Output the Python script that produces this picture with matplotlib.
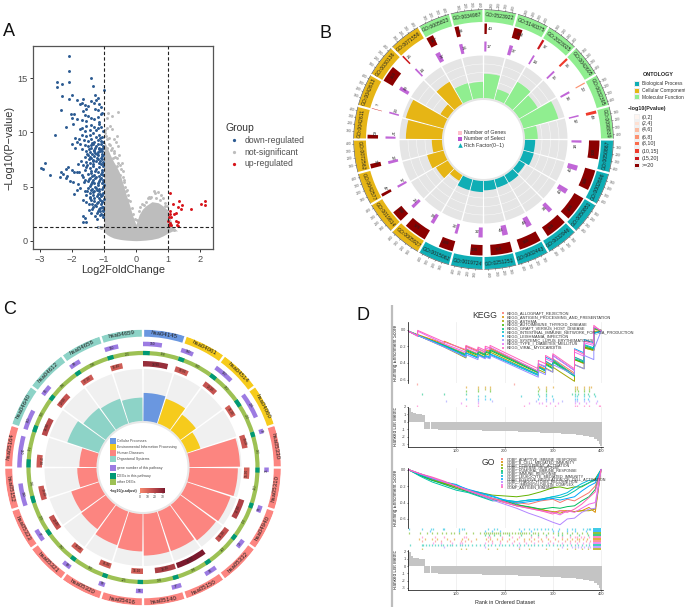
import numpy as np
import matplotlib
matplotlib.use("Agg")
import matplotlib.pyplot as plt
from matplotlib.colors import LinearSegmentedColormap

plt.rcParams["font.family"] = ["Liberation Sans", "DejaVu Sans"]

W, H = 685, 608

# ---- panel A data
down_x = [-2.08, -2.08, -2.46, -2.08, -2.31, -2.48, -1.40, -1.35, -2.32, -2.01, -2.09, -1.83, -1.65, -1.70, -1.00, -1.28, -2.34, -2.04,
          -1.75, -1.60, -1.55, -1.50, -1.65, -1.42, -1.30, -1.25, -1.20, -1.15, -1.28, -1.20, -1.10,
          -1.95, -2.00, -1.85, -1.70, -1.60, -1.50, -1.40, -1.30, -1.20, -1.10, -1.05, -1.15, -1.55,
          -2.20, -1.98, -1.75, -1.70, -1.55, -1.45, -1.40, -1.30, -1.25, -1.20, -1.15, -1.08, -1.02, -1.60,
          -2.52, -1.90, -1.85, -1.78, -1.70, -1.62, -1.55, -1.50, -1.45, -1.40, -1.35, -1.30, -1.25, -1.20, -1.15, -1.10, -1.05, -1.02, -1.12, -1.38,
          -2.00, -1.90, -1.75, -1.68, -1.60, -1.55, -1.50, -1.45, -1.40, -1.35, -1.30, -1.25, -1.20, -1.15, -1.10, -1.05, -1.02, -1.08, -1.18, -1.28, -1.42,
          -1.80, -1.72, -1.65, -1.60, -1.55, -1.50, -1.45, -1.40, -1.35, -1.30, -1.25, -1.20, -1.15, -1.10, -1.05, -1.02, -1.08, -1.18, -1.33, -1.48, -1.03,
          -2.97, -2.90, -2.83, -2.13, -2.18, -2.00, -1.95, -1.85, -1.78, -1.70, -1.60, -1.55, -1.50, -1.45, -1.40, -1.35, -1.30, -1.25, -1.20, -1.15, -1.10, -1.05, -1.02, -2.35, -2.27,
          -2.68, -2.38, -2.20, -2.15, -2.05, -1.98, -1.80, -1.65, -1.62, -1.58, -1.50, -1.45, -1.40, -1.35, -1.30, -1.25, -1.20, -1.15, -1.10, -1.05, -1.02, -1.45,
          -1.95, -1.85, -1.75, -1.60, -1.55, -1.50, -1.45, -1.40, -1.35, -1.30, -1.25, -1.20, -1.15, -1.10, -1.05, -1.02, -1.22,
          -1.65, -1.55, -1.45, -1.38, -1.33, -1.30, -1.25, -1.20, -1.15, -1.10, -1.05, -1.02, -1.12,
          -1.65, -1.60, -1.55, -1.65, -1.47, -1.27, -1.22, -1.13, -1.08, -1.03, -1.18, -1.02, -1.18, -1.14,
          -1.52, -1.47, -1.37, -1.32, -1.27, -1.22, -1.17, -1.12, -1.07, -1.03, -1.43, -1.33, -1.23, -1.13, -1.06, -1.04,
          -1.52, -1.42, -1.37, -1.27, -1.17, -1.07, -1.03, -1.48, -1.38, -1.28, -1.18, -1.12, -1.04, -1.01,
          -1.53, -1.43, -1.33, -1.23, -1.13, -1.07, -1.37, -1.27, -1.17, -1.03, -1.42, -1.32, -1.22, -1.12, -1.06, -1.01,
          -1.47, -1.37, -1.27, -1.17, -1.07, -1.03, -1.42, -1.22, -1.12, -1.02]
down_y = [17.1, 15.7, 14.7, 14.7, 14.5, 14.15, 15.0, 14.3, 13.4, 13.5, 13.05, 13.0, 13.1, 12.7, 13.9, 13.45, 12.05, 11.7,
          12.6, 12.5, 12.2, 12.4, 12.0, 12.9, 12.7, 13.0, 13.2, 12.6, 12.2, 12.05, 12.3,
          11.7, 11.3, 11.2, 11.1, 11.6, 11.5, 11.3, 11.2, 11.4, 11.7, 11.8, 11.0, 11.05,
          10.5, 10.8, 10.3, 10.4, 10.6, 10.2, 10.7, 10.5, 10.2, 10.4, 10.8, 10.5, 10.1, 10.1,
          9.8, 9.5, 9.1, 9.4, 9.8, 9.3, 9.7, 9.2, 9.8, 9.4, 9.9, 9.1, 9.6, 9.3, 9.8, 9.2, 9.6, 9.1, 9.5, 9.05,
          8.9, 8.6, 8.9, 8.5, 8.8, 8.3, 8.7, 8.2, 8.6, 8.9, 8.4, 8.7, 8.2, 8.6, 8.9, 8.3, 8.7, 8.5, 8.9, 8.1, 8.85,
          7.1, 7.4, 7.0, 7.7, 7.3, 7.9, 7.2, 7.6, 7.1, 7.8, 7.4, 7.9, 7.2, 7.6, 7.8, 7.3, 7.1, 7.5, 7.45, 7.55, 7.95,
          6.7, 6.6, 7.2, 6.8, 6.6, 6.55, 6.3, 6.35, 6.3, 6.1, 6.5, 6.8, 6.2, 6.7, 6.4, 6.9, 6.1, 6.6, 6.3, 6.8, 6.2, 6.5, 6.9, 6.3, 6.2,
          6.05, 5.9, 5.8, 6.0, 5.5, 5.4, 5.2, 5.9, 5.4, 5.6, 5.5, 5.8, 5.2, 5.6, 5.3, 5.9, 5.1, 5.5, 5.8, 5.3, 5.6, 5.05,
          4.35, 4.7, 4.9, 4.6, 4.2, 4.9, 4.4, 4.7, 4.2, 4.6, 4.9, 4.3, 4.6, 4.1, 4.8, 4.4, 4.65,
          3.8, 3.6, 3.9, 3.4, 3.1, 3.7, 3.2, 3.6, 3.9, 3.4, 3.7, 3.15, 3.05,
          2.3, 2.1, 1.75, 1.75, 2.8, 2.3, 2.0, 2.75, 2.5, 2.2, 2.75, 2.4, 1.3, 1.3,
          8.05, 8.45, 8.05, 8.25, 8.55, 8.05, 8.45, 8.25, 8.05, 8.55, 7.7, 7.35, 7.65, 7.35, 7.5, 7.05,
          6.95, 6.25, 5.95, 6.45, 6.0, 6.35, 6.05, 5.7, 5.4, 5.75, 5.35, 5.65, 5.45, 5.15,
          4.55, 4.05, 4.45, 4.1, 4.35, 4.2, 4.8, 5.0, 4.75, 4.95, 3.75, 3.9, 3.45, 3.75, 3.55, 3.85,
          3.35, 2.9, 3.3, 2.95, 3.1, 2.85, 2.55, 2.6, 2.35, 2.75]
up_x = [1.08, 2.15, 2.05, 2.15, 1.72, 1.35, 1.17, 1.43, 1.33, 1.40, 1.06, 1.24, 1.19, 1.08, 1.04, 1.11, 1.01, 1.24, 1.30, 1.06, 1.11, 1.27, 1.03, 1.30]
up_y = [4.43, 3.70, 3.40, 3.26, 2.95, 3.70, 3.40, 3.30, 3.07, 2.90, 2.70, 2.60, 2.43, 2.50, 2.20, 2.15, 1.80, 1.85, 1.70, 1.60, 1.45, 1.45, 1.45, 1.35]
# stray grey points above the dense cloud
ns_x = [-0.55, -0.86, -0.76, -0.92, -0.80, -0.92, -0.75, -0.60, -0.70, -0.95, -0.62, -0.85, -0.55, -0.78, -0.90, -0.68, -0.52, -0.72, -0.45, -0.60, -0.42, -0.50, -0.36, -0.30, -0.25, 0.55, 0.60, 0.70, 0.78, 0.85, 0.25, 0.38, 0.48, 0.92, 1.10, 1.20,
        -0.98, -0.96, -0.90, -0.85, -0.82, -0.75, -0.70, -0.66, -0.60, -0.55, -0.50, -0.46, -0.42, -0.38, -0.33, -0.28, -0.24, -0.18, -0.13, -0.08, -0.03, 0.03, 0.08, 0.14, 0.20, 0.30, 0.40, 0.45, 0.62, 0.75, 0.90, 0.96, 1.02, 1.05, -1.05, -1.10, -1.15]
ns_y = [11.9, 11.75, 11.5, 11.3, 10.6, 10.4, 10.3, 9.7, 9.4, 9.7, 9.1, 8.9, 8.7, 8.4, 8.6, 8.1, 7.9, 7.6, 7.2, 6.9, 6.4, 6.1, 5.4, 4.6, 3.8, 4.6, 4.4, 4.5, 4.2, 3.9, 3.3, 3.9, 4.0, 3.2, 1.2, 1.0,
        10.2, 9.9, 9.4, 9.5, 8.8, 8.6, 8.3, 7.7, 7.6, 7.2, 7.0, 6.6, 5.9, 5.6, 5.0, 4.7, 4.2, 3.7, 3.0, 2.5, 2.0, 1.9, 2.7, 3.1, 3.4, 3.6, 4.0, 3.9, 3.9, 3.8, 3.5, 3.2, 1.2, 0.95, 1.25, 1.2, 1.28]
cloud_x = [-1.00, -0.90, -0.80, -0.70, -0.60, -0.50, -0.40, -0.30, -0.20, -0.10, 0.00, 0.10, 0.20, 0.30, 0.50, 0.70, 0.85, 1.00, 1.15, 1.30]
cloud_hi = [9.3, 8.6, 7.9, 7.3, 6.8, 6.2, 5.2, 4.2, 3.3, 2.3, 1.5, 2.4, 2.9, 3.2, 3.6, 3.5, 3.2, 2.8, 1.3, 0.9]
cloud_lo = [0.80, 0.55, 0.38, 0.25, 0.18, 0.12, 0.08, 0.05, 0.03, 0.01, 0.00, 0.01, 0.03, 0.05, 0.12, 0.25, 0.45, 0.70, 0.90, 0.90]

# ---- panel B data
go_terms = ["GO:0523922", "GO:5140375", "GO:2023025", "GO:0042605", "GO:0032395", "GO:0098839",
            "GO:0050867", "GO:0002696", "GO:0050851", "GO:0032946", "GO:0002443", "GO:0251251", "GO:0019724", "GO:0015062",
            "GO:0005927", "GO:0019814", "GO:0042577", "GO:0072562", "GO:0042611", "GO:0042613", "GO:0030136", "GO:0071556",
            "GO:0005823", "GO:0034987"]
go_group = [2, 2, 2, 2, 2, 2, 0, 0, 0, 0, 0, 0, 0, 0, 1, 1, 1, 1, 1, 1, 1, 1, 2, 2]
go_genes = [40, 134, 37, 36, 20, 49, 300, 330, 400, 350, 360, 350, 200, 230, 370, 180, 47, 74, 60, 7, 263, 26, 117, 68]
go_select = [17, 27, 14, 15, 16, 12, 18, 40, 40, 34, 43, 43, 32, 22, 28, 25, 17, 22, 17, 13, 29, 14, 37, 26]
go_rich = [0.57, 0.25, 0.60, 0.50, 0.85, 0.30, 0.24, 0.25, 0.16, 0.20, 0.20, 0.22, 0.26, 0.26, 0.15, 0.32, 0.40, 0.24, 0.85, 0.92, 0.20, 0.60, 0.40, 0.38]
go_bin = [7, 7, 6, 5, 3, 5, 7, 7, 7, 7, 7, 7, 7, 7, 7, 7, 7, 7, 7, 6, 7, 6, 7, 7]
go_ticks = [100, 200, 300, 400]
bin_labels = ["(0,2]", "(2,4]", "(4,6]", "(6,8]", "(8,10]", "(10,15]", "(15,20]", ">=20"]
ontology_labels = ["Biological Process", "Cellular Component", "Molecular Function"]

# ---- panel C data
hsa_terms = ["hsa04145", "hsa04061", "hsa04514", "hsa04060", "hsa05330", "hsa05310", "hsa04940", "hsa05332", "hsa05150", "hsa05140",
             "hsa05416", "hsa05320", "hsa05321", "hsa05323", "hsa05152", "hsa05164", "hsa04640", "hsa04612", "hsa04658", "hsa04659"]
hsa_group = [0, 1, 1, 1, 2, 2, 2, 2, 2, 2, 2, 2, 2, 2, 2, 2, 3, 3, 3, 3]
hsa_rich = [0.54, 0.50, 0.37, 0.27, 0.97, 0.93, 0.88, 0.85, 0.80, 0.80, 0.72, 0.68, 0.58, 0.56, 0.37, 0.33, 0.64, 0.53, 0.50, 0.45]
hsa_padj = [33.9, 18.5, 20.1, 16.2, 18.0, 15.3, 27.1, 21.2, 42.2, 28.3, 16.1, 16.3, 16.0, 20.4, 19.2, 17.3, 24.3, 20.0, 17.2, 16.4]
hsa_genes = [150, 100, 160, 206, 36, 36, 55, 70, 98, 77, 56, 50, 69, 97, 180, 250, 160, 85, 90, 110]
hsa_other = [164, 140, 160, 200, 300, 250, 202, 323, 196, 194, 225, 302, 100, 123, 196, 111, 103, 106, 138, 200]
class_labels = ["Cellular Processes", "Environmental Information Processing", "Human Diseases", "Organismal Systems"]

# ---- panel D data
kegg_names = ["KEGG_ALLOGRAFT_REJECTION", "KEGG_ANTIGEN_PROCESSING_AND_PRESENTATION", "KEGG_ASTHMA", "KEGG_AUTOIMMUNE_THYROID_DISEASE",
              "KEGG_GRAFT_VERSUS_HOST_DISEASE", "KEGG_INTESTINAL_IMMUNE_NETWORK_FOR_IGA_PRODUCTION", "KEGG_LEISHMANIA_INFECTION",
              "KEGG_SYSTEMIC_LUPUS_ERYTHEMATOSUS", "KEGG_TYPE_I_DIABETES_MELLITUS", "KEGG_VIRAL_MYOCARDITIS"]
kegg_colors = ["#F8766D", "#D89000", "#A3A500", "#39B600", "#00BF7D", "#00BFC4", "#00B0F6", "#9590FF", "#E76BF3", "#FF62BC"]
kegg_rank = [1, 20, 20, 75, 75, 120, 120, 145, 145, 160, 160, 170, 170, 270, 270, 285, 285, 300, 300, 345, 345, 365, 365, 385, 385, 400]
kegg_es = [
    [-.02, -.07, -.07, -.18, -.18, -.29, -.23, -.29, -.25, -.29, -.25, -.27, -.23, -.51, -.43, -.47, -.38, -.43, -.35, -.52, -.33, -.38, -.20, -.24, .02, -.01],
    [-.02, -.06, -.06, -.17, -.14, -.25, -.20, -.26, -.23, -.27, -.24, -.26, -.22, -.50, -.44, -.48, -.40, -.44, -.37, -.54, -.36, -.41, -.22, -.25, .00, -.01],
    [-.02, -.07, -.07, -.21, -.21, -.34, -.26, -.33, -.29, -.33, -.29, -.31, -.27, -.54, -.48, -.52, -.46, -.51, -.45, -.62, -.42, -.47, -.22, -.25, -.03, -.01],
    [-.02, -.07, -.07, -.19, -.19, -.31, -.25, -.31, -.27, -.31, -.27, -.29, -.25, -.52, -.45, -.49, -.41, -.46, -.38, -.55, -.36, -.40, -.21, -.24, .01, -.01],
    [-.02, -.07, -.07, -.19, -.19, -.30, -.24, -.30, -.26, -.30, -.26, -.28, -.24, -.51, -.45, -.50, -.42, -.47, -.39, -.56, -.35, -.39, -.19, -.23, .02, -.01],
    [-.02, -.07, -.07, -.20, -.20, -.33, -.28, -.34, -.30, -.34, -.32, -.34, -.30, -.55, -.45, -.49, -.38, -.43, -.36, -.55, -.33, -.38, -.18, -.22, -.04, -.02],
    [-.02, -.07, -.07, -.20, -.20, -.32, -.28, -.34, -.30, -.34, -.31, -.33, -.29, -.54, -.41, -.45, -.33, -.37, -.31, -.49, -.23, -.28, -.12, -.16, -.05, -.02],
    [-.02, -.07, -.07, -.21, -.21, -.33, -.30, -.36, -.31, -.35, -.33, -.35, -.31, -.57, -.50, -.54, -.47, -.51, -.42, -.54, -.42, -.47, -.31, -.36, -.24, -.02],
    [-.02, -.08, -.02, -.17, -.17, -.27, -.21, -.27, -.23, -.27, -.22, -.24, -.21, -.50, -.41, -.44, -.35, -.39, -.31, -.49, -.27, -.32, -.16, -.19, .03, -.01],
    [-.02, -.08, -.01, -.15, -.15, -.24, -.19, -.25, -.21, -.25, -.20, -.22, -.19, -.47, -.37, -.41, -.31, -.36, -.29, -.47, -.24, -.30, -.14, -.17, .05, -.02],
]
kegg_hits = [
    [18, 220],
    [120, 145, 160, 170, 270, 285, 300, 345, 350, 365, 375, 380],
    [145, 160, 170, 272, 285, 345, 350, 365, 375],
    [120, 145, 170, 270, 285, 345, 352, 365, 375],
    [30, 75, 120, 270, 285, 340, 345, 352, 365, 372, 385],
    [145, 160, 235, 272, 285, 298, 345, 350, 365, 375, 388],
    [120, 145, 160, 170, 270, 285, 300, 345, 350, 365, 372],
    [78, 145, 175, 265, 285, 300, 320, 345, 350, 365, 375, 392],
    [110, 145, 250, 272, 278, 295, 310, 345, 355, 368, 390],
    [18, 120, 145, 240, 285, 305, 345, 350, 365, 375, 395, 398],
]
go_names = ["GOBP_ADAPTIVE_IMMUNE_RESPONSE", "GOBP_B_CELL_MEDIATED_IMMUNITY", "GOBP_COMPLEMENT_ACTIVATION", "GOBP_DEFENSE_RESPONSE",
            "GOBP_HUMORAL_IMMUNE_RESPONSE", "GOBP_IMMUNE_RESPONSE", "GOBP_LEUKOCYTE_MEDIATED_IMMUNITY", "GOBP_POSITIVE_REGULATION_OF_CELL_ACTIVATION",
            "GOBP_PHAGOCYTOSIS_RECOGNITION", "GOCC_IMMUNOGLOBULIN_COMPLEX", "GOMF_ANTIGEN_BINDING"]
go_colors = ["#F8766D", "#DB8E00", "#AEA200", "#64B200", "#00BD5C", "#00C1A7", "#00BADE", "#00A6FF", "#B385FF", "#EF67EB", "#FF63B6"]
go_rank = [1, 25, 50, 75, 100, 125, 150, 175, 200, 225, 250, 275, 300, 315, 330, 345, 360, 375, 388, 400]
go_es = [
    [0, -.06, -.12, -.17, -.22, -.26, -.31, -.35, -.39, -.40, -.42, -.38, -.36, -.40, -.36, -.38, -.33, -.28, -.20, 0],
    [0, -.06, -.12, -.17, -.21, -.27, -.31, -.36, -.40, -.44, -.46, -.48, -.52, -.50, -.50, -.51, -.50, -.46, -.52, 0],
    [0, -.05, -.11, -.16, -.20, -.26, -.30, -.35, -.38, -.42, -.46, -.49, -.51, -.53, -.50, -.51, -.50, -.50, -.48, 0],
    [0, -.07, -.13, -.17, -.21, -.25, -.28, -.31, -.32, -.33, -.31, -.27, -.22, -.21, -.23, -.21, -.21, -.16, -.11, 0],
    [0, -.07, -.13, -.18, -.23, -.27, -.32, -.37, -.38, -.43, -.45, -.48, -.46, -.47, -.45, -.44, -.38, -.33, -.24, 0],
    [0, -.08, -.15, -.20, -.25, -.28, -.33, -.38, -.37, -.39, -.37, -.36, -.33, -.34, -.31, -.26, -.20, -.16, -.13, 0],
    [0, -.05, -.10, -.15, -.18, -.25, -.29, -.33, -.37, -.39, -.37, -.36, -.33, -.31, -.28, -.22, -.17, -.13, -.13, 0],
    [0, -.06, -.11, -.15, -.19, -.24, -.28, -.32, -.37, -.41, -.39, -.37, -.35, -.37, -.35, -.33, -.26, -.20, -.16, 0],
    [0, -.05, -.10, -.15, -.20, -.25, -.31, -.37, -.42, -.47, -.53, -.58, -.64, -.67, -.60, -.59, -.52, -.48, -.47, 0],
    [0, -.05, -.10, -.15, -.20, -.26, -.31, -.35, -.40, -.44, -.47, -.50, -.52, -.55, -.50, -.52, -.47, -.42, -.40, 0],
    [0, -.05, -.09, -.14, -.20, -.25, -.30, -.35, -.39, -.44, -.47, -.50, -.54, -.50, -.52, -.48, -.42, -.34, -.27, 0],
]
# rug rows run top to bottom in the order seen in the picture
go_rug_colors = ["#00BADE", "#00A6FF", "#64B200", "#00BD5C", "#FF63B6", "#DB8E00", "#F8766D", "#EF67EB", "#00C1A7", "#B385FF", "#AEA200"]
go_hits = [
    [3, 30, 48, 52, 72, 75, 105, 112, 115, 165, 178, 185, 230, 240, 250, 262, 268, 275, 283, 290, 298, 312, 330, 340, 345, 362, 370, 374, 378],
    [45, 105, 160, 175, 190, 235, 255, 300, 310, 330, 345, 368],
    [3, 25, 40, 50, 60, 70, 78, 90, 95, 105, 120, 135, 150, 158, 162, 166, 170, 174, 178, 182, 186, 190, 196, 200, 205, 210, 216, 222, 228, 232, 236, 240, 245, 250, 258, 264, 270, 280, 290, 300, 310, 320, 330, 340, 350, 360, 370],
    [160, 168, 178, 190, 210, 235, 255, 270, 285, 310, 320, 335, 355, 372],
    [30, 55, 75, 115, 120, 165, 170, 195, 215, 230, 255, 270, 285, 300, 320, 335, 345, 350, 358, 365, 375],
    [22, 35, 50, 60, 80, 95, 112, 125, 140, 162, 170, 185, 195, 210, 225, 240, 250, 262, 275, 290, 305, 320, 330, 340, 350, 355, 362, 370],
    [28, 55, 68, 88, 110, 118, 130, 165, 175, 190, 205, 220, 240, 255, 270, 278, 295, 310, 325, 335, 345, 355, 368, 378],
    [52, 68, 92, 108, 112, 160, 175, 190, 215, 230, 245, 262, 290, 300, 320, 335, 350, 362, 374],
    [4, 28, 32, 38, 44, 50, 55, 62, 68, 72, 80, 88, 92, 100, 108, 112, 118, 125, 132, 140, 150, 158, 165, 172, 180, 188, 195, 202, 210, 218, 225, 232, 240, 248, 255, 262, 270, 278, 285, 292, 300, 308, 315, 322, 330, 338, 345, 352, 360, 368, 376],
    [75, 160, 230, 320, 340, 345, 352, 358, 365, 372, 378],
    [30, 110, 120, 165, 185, 230, 250, 285, 310, 330, 345, 360, 372],
]
go_block = [(384, 16)]
metric_rank = [3, 8, 14, 20, 26, 31, 40, 55, 70, 85, 100, 115, 130, 145, 160, 175, 190, 205, 220, 235, 250, 265, 280, 295, 310, 325, 340, 355, 368, 380, 388, 393, 397, 400]
metric_val = [1.9, 1.35, 1.15, 1.05, 1.0, .95, -1.0, -1.02, -1.04, -1.06, -1.08, -1.1, -1.13, -1.15, -1.18, -1.2, -1.23, -1.27, -1.3, -1.33, -1.37, -1.4, -1.45, -1.5, -1.56, -1.62, -1.7, -1.8, -1.92, -2.08, -2.3, -2.6, -3.0, -3.3]

blue_c, grey_c, red_c = "#2C5B92", "#BDBDBD", "#D7141A"
b_colors = ["#0FAEB5", "#E6B515", "#90EE90"]
bin_colors = ["#FFF5F0", "#FEE0D2", "#FCBBA1", "#FC9272", "#FB6A4A", "#EF3B2C", "#CB181D", "#8B0000"]
c_colors = ["#6A97E0", "#F6CB1C", "#FC8580", "#8DD3C7"]
padj_cmap = LinearSegmentedColormap.from_list("padj", ["#F7886E", "#C2504F", "#7B1A2E"])

fig = plt.figure(figsize=(W / 100, H / 100), dpi=100)


def axes_px(left, top, right, bottom, **kw):
    return fig.add_axes([left / W, 1 - bottom / H, (right - left) / W, (bottom - top) / H], **kw)


def polar_px(cx, cy, r):
    ax = axes_px(cx - r, cy - r, cx + r, cy + r, projection="polar")
    ax.set_theta_zero_location("N")
    ax.set_theta_direction(-1)
    ax.set_ylim(0, r)
    ax.axis("off")
    ax.patch.set_alpha(0)
    return ax


def tangent_rot(deg):
    deg = deg % 360
    return -deg if deg < 90 or deg > 270 else 180 - deg


# ---- A: volcano
ax = axes_px(33, 46, 213, 249)
ax.fill_between(cloud_x, cloud_lo, cloud_hi, color=grey_c, lw=0, zorder=1)
ax.scatter(down_x, down_y, s=4.5, color=blue_c, lw=0, label="down-regulated", zorder=2)
ax.scatter(ns_x, ns_y, s=4.5, color=grey_c, lw=0, label="not-significant", zorder=2)
ax.scatter(up_x, up_y, s=4.5, color=red_c, lw=0, label="up-regulated", zorder=2)
for v in (-1, 1):
    ax.axvline(v, color="#222222", ls=(0, (3, 2)), lw=0.8, zorder=3)
ax.axhline(1.3, color="#222222", ls=(0, (3, 2)), lw=0.8, zorder=3)
ax.set_xlim(-3.22, 2.41)
ax.set_ylim(-0.77, 17.98)
ax.set_xticks([-3, -2, -1, 0, 1, 2])
ax.set_xticklabels(["\u22123", "\u22122", "\u22121", "0", "1", "2"])
ax.set_yticks([0, 5, 10, 15])
ax.tick_params(labelsize=6.6, labelcolor="#4D4D4D", color="#333333", length=2.5, width=0.7, pad=1.5)
for s in ax.spines.values():
    s.set_color("#555555")
    s.set_linewidth(0.9)
ax.set_xlabel("Log2FoldChange", fontsize=7.8, color="#333333", labelpad=1)
ax.set_ylabel("\u2212Log10(P\u2212value)", fontsize=7.8, color="#333333", labelpad=2)
leg = ax.legend(title="Group", loc="upper left", bbox_to_anchor=(225 / W, 1 - 123 / H), bbox_transform=fig.transFigure,
                frameon=False, fontsize=6.2, title_fontsize=7.5, markerscale=1.1, labelspacing=0.32, handletextpad=0.3,
                borderpad=0, borderaxespad=0)
leg._legend_box.align = "left"
for t in leg.get_texts():
    t.set_color("#4D4D4D")
leg.get_title().set_color("#333333")

# ---- B: GO circle
cx, cy, R = 483.5, 139.5, 139
ax = polar_px(cx, cy, R)
n = len(go_terms)
step = 2 * np.pi / n
gap = np.radians(1.0)
starts = np.arange(n) * step
ax.bar(starts + gap / 2, 12, step - gap, bottom=117.5, align="edge", color=[b_colors[g] for g in go_group], lw=0)
ax.bar(starts + gap / 2, 42.5, step - gap, bottom=41.5, align="edge", color="#E5E5E5", lw=0)
ax.bar(0, 2, 2 * np.pi, bottom=39.5, align="edge", color="#E5E5E5", lw=0)
for lev in (0.2, 0.4, 0.6, 0.8):
    for s0 in starts:
        th = np.linspace(s0 + gap / 2, s0 + step - gap / 2, 12)
        ax.plot(th, np.full(12, 41.5 + lev * 42.5), color="white", lw=0.3)
ax.bar(starts + gap / 2, np.array(go_rich) * 42.5, step - gap, bottom=41.5, align="edge", color=[b_colors[g] for g in go_group], lw=0, zorder=3)
ax.bar(starts + gap / 2, 10.5, np.array(go_genes) / 450 * (step - gap), bottom=105.5, align="edge",
       color=[bin_colors[b] for b in go_bin], lw=0)
ax.bar(starts + gap / 2, 10, np.array(go_select) / 180 * (step - gap), bottom=88, align="edge", color="#BA55D3", lw=0, alpha=0.9)
for i, term in enumerate(go_terms):
    mid = np.degrees(starts[i] + step / 2)
    ax.text(starts[i] + step / 2, 123.7, term, fontsize=3.7, ha="center", va="center", rotation=tangent_rot(mid),
            rotation_mode="anchor", color="#222222")
    w = go_genes[i] / 450 * (step - gap)
    s_w = go_select[i] / 180 * (step - gap)
    lab_rot = tangent_rot(np.degrees(starts[i]))
    ax.text(starts[i] + gap / 2 + max(w, 0.06) / 2 + 0.02, 110.5, str(go_genes[i]), fontsize=3.2, ha="center", va="center",
            rotation=lab_rot, rotation_mode="anchor", color="#222222")
    ax.text(starts[i] + gap / 2 + max(s_w, 0.05) / 2 + 0.03, 92.5, str(go_select[i]), fontsize=3.2, ha="center", va="center",
            rotation=lab_rot, rotation_mode="anchor", color="#222222")
    th = np.linspace(starts[i] + gap / 2, starts[i] + step - gap / 2, 10)
    ax.plot(th, np.full(10, 129.8), color="#444444", lw=0.4)
    for t in go_ticks:
        tt = starts[i] + gap / 2 + t / 450 * (step - gap)
        ax.plot([tt, tt], [129.8, 131.2], color="#444444", lw=0.3)
        ax.text(tt, 135, str(t), fontsize=2.4, color="#555555", ha="center", va="center",
                rotation=90 - np.degrees(tt) if np.degrees(tt) < 180 else 270 - np.degrees(tt), rotation_mode="anchor")

# ---- C: KEGG class circle
cx, cy, R = 143, 467.5, 138
ax = polar_px(cx, cy, R)
n = len(hsa_terms)
step = 2 * np.pi / n
starts = np.arange(n) * step
ax.bar(starts + gap / 2, 7, step - gap, bottom=130.8, align="edge", color=[c_colors[g] for g in hsa_group], lw=0)
ax.bar(starts + gap / 2, 52, step - gap, bottom=46.5, align="edge", color="#F0F0F0", lw=0)
ax.bar(0, 2, 2 * np.pi, bottom=44.5, align="edge", color="#E8E8E8", lw=0)
ax.bar(starts + gap / 2, np.array(hsa_rich) * 52, step - gap, bottom=46.5, align="edge", color=[c_colors[g] for g in hsa_group], lw=0)
ax.bar(starts, 4.2, step, bottom=112.4, align="edge", color="#9DC154", lw=0)
green_part = np.array(hsa_genes) / 300 * 0.12 * step + 0.04
ax.bar(starts, 4.2, green_part, bottom=112.4, align="edge", color="#009975", lw=0)
ax.bar(starts, 5.5, np.array(hsa_padj) / 42.2 * (step - gap), bottom=101, align="edge",
       color=padj_cmap(np.array(hsa_padj) / 42.2), lw=0)
ax.bar(starts, 4.5, np.array(hsa_genes) / 290 * (step - gap), bottom=121.3, align="edge", color="#9C7BE2", lw=0)
for i, term in enumerate(hsa_terms):
    mid = np.degrees(starts[i] + step / 2)
    ax.text(starts[i] + step / 2, 134.3, term, fontsize=4.4, ha="center", va="center", rotation=tangent_rot(mid),
            rotation_mode="anchor", color="#222222")
    rot0 = tangent_rot(np.degrees(starts[i]))
    w_p = hsa_padj[i] / 42.2 * (step - gap)
    ax.text(starts[i] + w_p / 2, 103.7, f"{hsa_padj[i]:.2f}", fontsize=2.3, ha="center", va="center", rotation=rot0,
            rotation_mode="anchor", color="#33201f")
    w_g = hsa_genes[i] / 290 * (step - gap)
    ax.text(starts[i] + w_g / 2, 123.5, str(hsa_genes[i]), fontsize=2.3, ha="center", va="center", rotation=rot0,
            rotation_mode="anchor", color="#222222")
    ax.text(starts[i] + step * 0.55, 114.5, str(hsa_other[i]), fontsize=2.3, ha="center", va="center",
            rotation=tangent_rot(np.degrees(starts[i] + step * 0.55)), rotation_mode="anchor", color="#2f3a1a")


# ---- D: enrichment plots
def gsea_panel(top, mid, low, bottom, ranks, curves, colors, hits, rug_colors, es_lim, metric_lim, blocks, xlabel):
    es_ticks = [0, -0.2, -0.4, -0.6]
    a1 = axes_px(408, top, 602.5, mid)
    for y, c in zip(curves, colors):
        a1.plot(ranks, y, color=c, lw=0.7)
    a1.set_xlim(0, 403)
    a1.set_ylim(*es_lim)
    a1.set_xticks([100, 200, 300, 400])
    a1.set_xticklabels([])
    a1.set_yticks(es_ticks)
    a1.set_yticklabels([f"{t:.1f}" if t else "0.0" for t in es_ticks])
    a1.tick_params(axis="x", length=0)
    a1.tick_params(axis="y", labelsize=2.7, length=1.0, width=0.4, pad=0.5, labelcolor="#444444")
    a1.grid(axis="x", color="#EBEBEB", lw=0.5)
    a1.set_axisbelow(True)
    for s in ("top", "right", "bottom"):
        a1.spines[s].set_visible(False)
    a1.spines["left"].set_linewidth(0.5)
    a1.set_ylabel("Running Enrichment Score", fontsize=3.3, color="#222222")
    a1.yaxis.set_label_coords(-0.052, 0.5)

    a2 = axes_px(408, mid, 602.5, low)
    nrow = len(hits)
    for i, (h, c) in enumerate(zip(hits, rug_colors)):
        a2.vlines(h, nrow - i - 0.95, nrow - i - 0.05, color=c, lw=0.9, alpha=0.55)
        if blocks:
            a2.broken_barh(blocks, (nrow - i - 0.95, 0.9), color=c, alpha=0.75, lw=0)
    a2.set_xlim(0, 403)
    a2.set_ylim(0, nrow)
    a2.axis("off")

    a3 = axes_px(408, low, 602.5, bottom)
    a3.bar(metric_rank, metric_val, width=np.gradient(metric_rank), color="#C4C4C4", lw=0)
    a3.set_xlim(0, 403)
    a3.set_ylim(*metric_lim)
    a3.set_xticks([100, 200, 300, 400])
    a3.set_yticks([2, 1, 0, -1, -2, -3])
    a3.set_yticklabels(["2", "1", "0", "-1", "-2", "-3"])
    a3.tick_params(labelsize=2.9, length=1.0, width=0.4, pad=0.5, labelcolor="#444444")
    a3.grid(axis="x", color="#EBEBEB", lw=0.5)
    a3.set_axisbelow(True)
    for s in ("top", "right"):
        a3.spines[s].set_visible(False)
    a3.spines["left"].set_linewidth(0.5)
    a3.spines["bottom"].set_linewidth(0.5)
    a3.set_ylabel("Ranked List Metric", fontsize=3.3, color="#222222")
    a3.yaxis.set_label_coords(-0.052, 0.5)
    if xlabel:
        a3.set_xlabel(xlabel, fontsize=3.9, labelpad=3, color="#222222")


gsea_panel(322, 383, 407, 447, kegg_rank, kegg_es, kegg_colors, kegg_hits, kegg_colors, (-0.64, 0.09), (-3.4, 2.0), None, None)
gsea_panel(468, 528, 550, 590, go_rank, go_es, go_colors, go_hits, go_rug_colors, (-0.71, 0.02), (-3.3, 2.2), go_block, "Rank in Ordered Dataset")

# ---- overlay: letters, legends, divider
ov = axes_px(0, 0, W, H)
ov.set_xlim(0, W)
ov.set_ylim(H, 0)
ov.axis("off")
ov.patch.set_alpha(0)

for letter, lx, ly in [("A", 3, 32), ("B", 320, 33), ("C", 3, 310), ("D", 357, 315)]:
    ov.text(lx, ly, letter, fontsize=13, ha="left", va="center", color="#111111")

ov.plot([391.7, 391.7], [305, 607], color="#BDBDBD", lw=1.6, solid_capstyle="butt")

# legend of panel B, centre
for y, lab, c, m in [(133, "Number of Genes", "#FFC0CB", "s"), (139, "Number of Select", "#BA55D3", "s"), (145, "Rich Factor(0~1)", "#0FAEB5", "^")]:
    ov.scatter([460], [y], s=11, marker=m, color=c, lw=0)
    ov.text(464, y, lab, fontsize=3.8, va="center", color="#333333")

# legend of panel B, right
ov.text(658, 75, "ONTOLOGY", fontsize=3.9, weight="bold", ha="center", va="center", color="#222222")
for y, lab, c in zip([83.7, 90.7, 97.3], ontology_labels, b_colors):
    ov.add_patch(plt.Rectangle((634, y - 3), 6, 6, color="#EDEDED", lw=0))
    ov.add_patch(plt.Rectangle((635, y - 2), 4, 4, color=c, lw=0))
    ov.text(641.7, y, lab, fontsize=3.5, va="center", color="#333333")
ov.text(628, 108.7, "\u2212log10(Pvalue)", fontsize=3.9, weight="bold", va="center", color="#222222")
bin_y = [117, 123.5, 130, 137, 143.7, 151, 158.3, 165.7]
ov.add_patch(plt.Rectangle((634, 113.5), 6.5, 56, color="#F0F0F0", lw=0))
ov.scatter([637.2] * 8, bin_y, s=6, marker="s", color=bin_colors, lw=0)
for y, lab in zip(bin_y, bin_labels):
    ov.text(641.7, y, lab, fontsize=3.9, va="center", color="#333333")

# legend of panel C, centre
for y, lab, c in zip([441, 447, 453, 459.3], class_labels, c_colors):
    ov.add_patch(plt.Rectangle((110, y - 3), 6, 6, color=c, lw=0))
    ov.text(117.3, y, lab, fontsize=2.55, va="center", color="#444444")
for y, lab, c in [(467.7, "gene number of this pathway", "#9C7BE2"), (476.3, "DEGs in this pathway", "#009975"), (482.3, "other DEGs", "#9DC154")]:
    ov.add_patch(plt.Rectangle((110, y - 3), 6, 6, color=c, lw=0))
    ov.text(117.3, y, lab, fontsize=2.55, va="center", color="#444444")
ov.text(110, 490.7, "\u2212log10(p.adjust)", fontsize=2.6, weight="bold", va="center", color="#333333")
cb = axes_px(140, 488, 165, 493.3)
cb.imshow(np.linspace(0, 1, 64)[None, :], cmap=padj_cmap, aspect="auto", extent=(0, 33, 0, 1))
cb.set_yticks([])
cb.set_xticks([0, 10, 20, 30])
cb.tick_params(labelsize=2.4, length=0.8, width=0.3, pad=0.5, labelcolor="#444444")
for s in cb.spines.values():
    s.set_visible(False)

# titles and legends of panel D
ov.text(485, 315, "KEGG", fontsize=6.2, ha="center", va="center", color="#333333")
ov.text(488, 462.5, "GO", fontsize=6.2, ha="center", va="center", color="#333333")
for i, (lab, c) in enumerate(zip(kegg_names, kegg_colors)):
    y = 313.3 + i * 3.8
    ov.scatter([503], [y], s=1.6, marker="s", color=c, lw=0, alpha=0.8)
    ov.text(507, y, lab, fontsize=2.9, va="center", color="#333333")
for i, (lab, c) in enumerate(zip(go_names, go_colors)):
    y = 459.3 + i * 2.8
    ov.scatter([502], [y], s=1.6, marker="s", color=c, lw=0, alpha=0.8)
    ov.text(507, y, lab, fontsize=2.7, va="center", color="#333333")

fig.savefig("out.png", dpi=100, facecolor="white")
